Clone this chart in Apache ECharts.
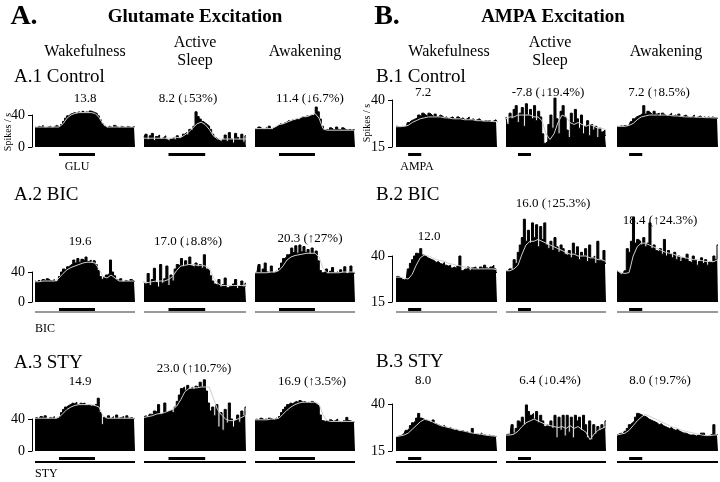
<!DOCTYPE html>
<html><head><meta charset="utf-8">
<script src="https://cdn.jsdelivr.net/npm/echarts@6/dist/echarts.min.js"></script>
<style>html,body{margin:0;padding:0;background:#fff}#c{width:720px;height:482px}</style>
</head><body><div id="c"></div>
<script>
// ---------- text ----------
const sectionTitles = ['Glutamate Excitation', 'AMPA Excitation'];
const sectionLetters = ['A.', 'B.'];
const stateNames = ['Wakefulness', 'Active Sleep', 'Awakening'];
const rowLabelsA = ['A.1 Control', 'A.2 BIC', 'A.3 STY'];
const rowLabelsB = ['B.1 Control', 'B.2 BIC', 'B.3 STY'];
const valueLabelsA = [['13.8', '8.2 (\u219353%)', '11.4 (\u21936.7%)'],
                      ['19.6', '17.0 (\u21938.8%)', '20.3 (\u219127%)'],
                      ['14.9', '23.0 (\u219110.7%)', '16.9 (\u21913.5%)']];
const valueLabelsB = [['7.2', '-7.8 (\u219319.4%)', '7.2 (\u21918.5%)'],
                      ['12.0', '16.0 (\u219125.3%)', '18.4 (\u219124.3%)'],
                      ['8.0', '6.4 (\u21930.4%)', '8.0 (\u21919.7%)']];
const yTicksA = [0, 40];
const yTicksB = [15, 40];
const yName = 'Spikes / s';

// ---------- firing-rate histograms (spikes/s), 50 bins each; trend = light smoothed line, 26 pts ----------
const a1Wake = [25,24,26,25,27,24,25,26,24,25,27,26,25, 28,32,36,39,41, 42,43,42,44,43,45,43,44,42,45,44,43,42, 39,34,29,26, 24,26,25,24,27,25,24,26,25,24,26,25,24,26,25];
const a1WakeTrend = [25,25,25,25,25,25,25,29,36,40,42,43,43,43,43,42,37,29,25,25,25,25,25,25,25,25];
const a1Sleep = [12,16,9,14,17,8,13,15,10,12,14,9,7,10,12,9,14,11,13,16, 18,15,22,20,26, 44,38,35, 32,30,28,26,22, 16,12,10,8,6,9, 15,7,18,10,5,17,12,9,16,6,14];
const a1SleepTrend = [11,11,11,11,11,11,11,11,12,12,15,19,24,29,31,28,22,14,10,10,10,10,10,10,10,10];
const a1Awake = [23,22,25,23,22,24,23,26,22,24, 25,27,29,28,30,31,33,32,34,33, 35,34,36,38,37,39,38,40,39,41, 50,44, 35,26, 21,22,21,24,22,21,25,22,21,24,22,21,22,21,22,21];
const a1AwakeTrend = [23,23,23,23,23,25,28,29,31,33,35,36,38,38,40,42,36,23,21,21,21,21,21,21,21,21];

const a2Wake = [28,27,29,27,30,28,31,29,28,30,27,29, 34,40,44,42,47,49, 51,56,52,58,53,57,55,60,54,56,52,55,50, 42,34,30, 33,36,38,56,40,35, 30,28,31,27,29,28,27,30,28,27];
const a2WakeTrend = [27,27,28,28,28,28,32,38,43,46,48,50,52,53,53,52,44,34,32,36,32,28,28,28,28,28];
const a2Sleep = [27,24,38,22,30,45,26,20,50,25,31,48,22,36,28, 44,50,48,58,47,55,49,60,48,46,52,47,50,45,63,44,42, 35,28,24, 22,30,20,23,32,19,21,20,24,30,18,22,28,20,25];
const a2SleepTrend = [26,26,27,28,28,28,30,34,42,48,49,50,50,49,49,48,45,33,25,22,22,22,22,22,22,22];
const a2Awake = [38,40,50,39,44,52,40,38,48,39,41,40, 45,52,58,60,63, 64,72,66,75,65,76,67,74,66,70,64,72,65,68, 55,42, 39,40,44,38,41,46,39,40,38,43,39,47,38,40,48,39,38];
const a2AwakeTrend = [39,39,39,39,40,40,42,48,56,60,62,63,64,65,65,65,60,45,39,39,39,39,40,40,40,40];

const a3Wake = [41,42,40,43,41,44,40,42,41,43,40,42, 44,48,52,55,57, 58,60,59,61,58,60,59,60,57,58,56,57,55,58, 66,48, 33,42,40,44,41,43,40,45,41,42,43,40,44,41,42,40,41];
const a3WakeTrend = [41,41,41,41,41,41,42,47,52,55,57,58,58,58,58,57,55,44,41,41,41,41,41,41,41,41];
const a3Sleep = [43,44,42,46,45,50,48,58,46,47,60,49,50,51,48,55, 62,70, 78,80,76,82,78,80,77,81,79,86,80,89, 75,60,50,55, 44,58,30,48,26,52,35,60,40,30,38,45,36,50,44,55];
const a3SleepTrend = [42,43,44,46,47,48,50,52,56,64,74,78,79,79,80,80,80,66,52,45,40,38,38,40,42,45];
const a3Awake = [39,40,38,41,39,40,38,41,40,39,41,40, 43,48,52,55,58, 60,59,61,62,60,63,61,62,60,61,59,62,60,58,56, 45,38, 37,38,36,39,37,38,40,37,36,38,37,42,38,37,36,37];
const a3AwakeTrend = [39,39,39,39,40,40,41,46,51,55,58,60,61,61,61,61,59,45,38,37,37,37,37,37,37,37];

const b1Wake = [26,26,25.5,26,25.8,26, 28,29,29.5,30, 30.5,32,31,33,32,31.5,33,32,31,32.5,31,32,31.5, 30.5,31,30,30.5,31,30,29.5,31,30,30.5,29.5,30,31,29.5,30,29,29.5,30,29,28.5,29,28.8,29,28.5,28.8,29.5,28.5];
const b1WakeTrend = [25.8,25.8,26,26.5,28,29,30,30.5,31,31,31,31,30.5,30.5,30,30,30,29.5,29.5,29.5,29,29,28.8,28.8,28.5,28.5];
const b1Sleep = [31,27,33,30,35,37,28,33,36,26,38,32,35,30,37,29,34,31, 22,17,18, 27,32,25,41,30,22,34,37,31, 24,20,33,28,35,30,25,32,22,26,29,21,27,24,26,20,25,23,24,21];
const b1SleepTrend = [30,31,31,32,32,32,32,31,31,29,22,19,22,28,32,31,28,27,28,27,26,27,26,25,25,24];
const b1Awake = [26,25.8,26.2,26,26.5,26,27, 28.5,30,31, 31.5,32,33,37,32.5,34,33,32,34,32.5,33,31.5,33, 32,31.5,32,33,31.5,32,31,32.5,31,31.5,32,31,30.5,31,32,30.5,31,31.5,30.5,31,30.5,31,30.5,31,30.5,30.5,30];
const b1AwakeTrend = [26,26,26,26.5,27.5,29.5,31,31.5,32,32,32,32,32,31.8,31.5,31.5,31.2,31,31,31,30.8,30.8,30.6,30.6,30.5,30.5];

const b2Wake = [28.7,29,28.5,27.5,27,27.5, 33,36,38, 40,41.5,41,44,40.5,40, 39,38.5,38,37.5,36.5,37,36,35.5,36.5,35, 34.5,35,33.5,34,33,34.5,40,32,33,32.5,34,32,33.5,34,33,32.5,34,33,35,33.5,32.5,34,35,33,31];
const b2WakeTrend = [28.5,28.5,28,27.5,30,35,39,40.5,40,39,38,37.5,37,36,35.5,35,34.5,34,33.5,33,33,33,33,33,33,32.5];
const b2Sleep = [32,31.5,33,32.5,38, 36,42,46,50,60, 48,54,47,58,50,57,45,56,49,58, 46,44,48,43,50,45,42,46,44,41, 40,43,39,47,41,45,38,42,40,44,37,46,39,40,36,48,38,37,43,36];
const b2SleepTrend = [32,32,33,35,41,46,48,48,49,48,47,46,45,44,43,42,41,41,40,40,40,39,39,38,38,37];
const b2Awake = [32,31,30,30.5,32, 44,42,48,61,47, 49,48,46,50,45,47,58,44,46,43, 42,44,41,49,40,43,41,39,42,38, 40,37,39,38,41,37,36,40,38,35,37,39,36,38,35,37,36,40,38,46];
const b2AwakeTrend = [32,31,30.5,31,40,45,47,47,46,45,44,43,42,41.5,41,40,39.5,39,38.5,38,38,37.5,37,37,37,38];

const b3Wake = [22.5,22.8,23,23.5, 24.5,26,27,28.5,30,31,32.5, 35,32.5,32, 31.5,31,30.5,30,31.5,29.5,29,28.5,28,28.5,27.5,27,27.5,26.5,26,26.5,25.5,25.5,26,25,25.5,24.5,24.5,27,24,24,23.5,24.5,23.5,23.5,23,23.5,22.8,23,22.6,22.8];
const b3WakeTrend = [22.6,23,23.5,24.5,26.5,28.5,30.5,31.8,31.5,30.5,29.5,28.5,28,27.5,27,26.5,26,25.5,25,24.5,24.2,24,23.5,23.2,23,22.8];
const b3Sleep = [23.5,24,23.5,29,24.5, 27,31,30,33,29,39.5, 36,34,35,32,36,30,34,31,28, 29,28,31,27,34,22,33,26,34,23, 34,25,33,22,34,31,33,26,34,29,22,31,21,29,24,28,26,29,27,31];
const b3SleepTrend = [23.5,23.5,24,25.5,28,30,31,32,31,30,29,28.5,28,27.5,28,27,28.5,27,28,26.5,25,21,24,26,27,28];
const b3Awake = [23.5,24,24.5,24,25.5, 27,29,30,31,33,35,34.5, 34,33.5,33,32,31.5,31,30.5,30,29,29.5,28.5,28,27.5,27,27.5,26.5,26,26.5,25.5,25,24.5,24.5,24, 23.5,23.5,23.5,23,23.5,23,24.5,24.5,23,23,23.5,24,29,23.5,24];
const b3AwakeTrend = [23.5,24,24.5,26,28.5,31,33,34.5,33.5,32.5,31.5,30.5,29.5,28.5,27.5,27,26,25.5,25,24.5,24,23.5,23.2,23.2,23.5,23.5];

// ---------- assembly ----------
const binCats = a1Wake.map((_, i) => String(i + 1));
const trendCats = a1WakeTrend.map((_, i) => String(i + 1));

const FONT = 'Liberation Serif';
const sections = [
  { key: 'A', min: 0, ticks: yTicksA, k: 3,
    cols: [[35,135],[144,246],[255,355]], axisX: 32,
    rows: [{ base: 147, top40: 115 }, { base: 302, top40: 272 }, { base: 451, top40: 419 }],
    data: [[a1Wake,a1WakeTrend,a1Sleep,a1SleepTrend,a1Awake,a1AwakeTrend],
           [a2Wake,a2WakeTrend,a2Sleep,a2SleepTrend,a2Awake,a2AwakeTrend],
           [a3Wake,a3WakeTrend,a3Sleep,a3SleepTrend,a3Awake,a3AwakeTrend]],
    app: [0.24, 0.60] },
  { key: 'B', min: 15, ticks: yTicksB, k: 2.5,
    cols: [[396,497],[506,606],[617,718]], axisX: 392,
    rows: [{ base: 147, top40: 100 }, { base: 302, top40: 256 }, { base: 451, top40: 404 }],
    data: [[b1Wake,b1WakeTrend,b1Sleep,b1SleepTrend,b1Awake,b1AwakeTrend],
           [b2Wake,b2WakeTrend,b2Sleep,b2SleepTrend,b2Awake,b2AwakeTrend],
           [b3Wake,b3WakeTrend,b3Sleep,b3SleepTrend,b3Awake,b3AwakeTrend]],
    app: [0.12, 0.25] }
];

const grid = [], xAxis = [], yAxis = [], series = [], elements = [];
function txt(x, y, text, size, opts) {
  elements.push(Object.assign({ type: 'text', x: x, y: y, silent: true,
    style: Object.assign({ text: text, fontFamily: FONT, fontSize: size, fill: '#000',
      align: 'center', verticalAlign: 'middle' }, (opts && opts.style) || {}) },
    (opts && opts.el) || {}));
}
function rect(x, y, w, h, color) {
  elements.push({ type: 'rect', silent: true, shape: { x: x, y: y, width: w, height: h }, style: { fill: color } });
}

sections.forEach(sec => {
  sec.rows.forEach((r, ri) => {
    const h40 = r.base - r.top40;
    const max = sec.min + (40 - sec.min) * sec.k;
    const gTop = r.base - h40 * sec.k;
    sec.cols.forEach((c, ci) => {
      const gi = grid.length;
      grid.push({ left: c[0], top: gTop, width: c[1] - c[0], height: r.base - gTop, containLabel: false });
      xAxis.push({ type: 'category', gridIndex: gi, data: binCats, show: false, boundaryGap: false });
      xAxis.push({ type: 'category', gridIndex: gi, data: trendCats, show: false, boundaryGap: false });
      yAxis.push({ type: 'value', gridIndex: gi, min: sec.min, max: max, show: false });
      const bars = sec.data[ri][ci * 2], trend = sec.data[ri][ci * 2 + 1];
      // histogram drawn as a stepped, filled silhouette (bins share edges, no seams)
      series.push({ type: 'line', step: 'middle', xAxisIndex: xAxis.length - 2, yAxisIndex: yAxis.length - 1,
        data: bars, symbol: 'none', lineStyle: { color: '#000', width: 1 },
        areaStyle: { color: '#000', opacity: 1, origin: 'start' },
        clip: true, silent: true, animation: false, z: 2 });
      series.push({ type: 'line', xAxisIndex: xAxis.length - 1, yAxisIndex: yAxis.length - 1,
        data: trend, symbol: 'none', lineStyle: { color: '#cfcfcf', width: 1 }, clip: true, silent: true, animation: false, z: 5 });
      // drug application bar
      const w = c[1] - c[0];
      rect(c[0] + w * sec.app[0], r.base + 6, w * (sec.app[1] - sec.app[0]), 3, '#000');
      if (ri === 1) rect(c[0], r.base + 9, w, 2, '#999');
      if (ri === 2) rect(c[0], r.base + 10, w, 2, '#000');
    });
  });
});

// bracket axes (0/15 to 40)
sections.forEach(sec => {
  sec.rows.forEach(r => {
    const gi = grid.length;
    grid.push({ left: sec.axisX, top: r.top40, width: 2, height: r.base - r.top40, containLabel: false });
    xAxis.push({ type: 'value', gridIndex: gi, min: 0, max: 1, show: false });
    yAxis.push({ type: 'value', gridIndex: gi, min: sec.ticks[0], max: sec.ticks[1],
      interval: sec.ticks[1] - sec.ticks[0],
      axisLine: { show: true, lineStyle: { color: '#000', width: 1 } },
      axisTick: { show: true, length: 4, lineStyle: { color: '#000' } },
      splitLine: { show: false },
      axisLabel: { show: true, color: '#000', fontFamily: FONT, fontSize: 14, margin: 7 } });
  });
});

// headings
txt(24, 17, sectionLetters[0], 28, { style: { fontWeight: 'bold' } });
txt(195, 17, sectionTitles[0], 19, { style: { fontWeight: 'bold' } });
txt(387, 17, sectionLetters[1], 28, { style: { fontWeight: 'bold' } });
txt(553, 17, sectionTitles[1], 19, { style: { fontWeight: 'bold' } });
const headCenters = [[85, 195, 305], [449, 550, 666]];
headCenters.forEach(hc => {
  txt(hc[0], 52, stateNames[0], 16);
  txt(hc[1], 43, stateNames[1].split(' ')[0], 16);
  txt(hc[1], 61, stateNames[1].split(' ')[1], 16);
  txt(hc[2], 52, stateNames[2], 16);
});
// row labels
[[rowLabelsA, 14, [77, 195, 363]], [rowLabelsB, 376, [77, 195, 362]]].forEach(([labels, x, ys]) => {
  labels.forEach((l, i) => txt(x, ys[i], l, 19, { style: { align: 'left' } }));
});
// value labels
const valPosA = [[[85,99],[188,99],[310,99]], [[80,242],[188,242],[310,239]], [[80,382],[194,369],[312,382]]];
const valPosB = [[[423,93],[548,93],[659,93]], [[429,237],[553,204],[660,221]], [[423,381],[550,381],[660,381]]];
valueLabelsA.forEach((row, ri) => row.forEach((t, ci) => txt(valPosA[ri][ci][0], valPosA[ri][ci][1], t, 13)));
valueLabelsB.forEach((row, ri) => row.forEach((t, ci) => txt(valPosB[ri][ci][0], valPosB[ri][ci][1], t, 13)));
// drug names
txt(77, 167, 'GLU', 12);
txt(417, 167, 'AMPA', 12);
txt(35, 329, 'BIC', 12, { style: { align: 'left' } });
txt(35, 474, 'STY', 12, { style: { align: 'left' } });
// y names
txt(8, 132, yName, 10, { el: { rotation: Math.PI / 2 } });
txt(367, 123, yName, 10, { el: { rotation: Math.PI / 2 } });

const chart = echarts.init(document.getElementById('c'), null, { renderer: 'canvas' });
chart.setOption({
  animation: false,
  backgroundColor: '#fff',
  grid: grid, xAxis: xAxis, yAxis: yAxis, series: series,
  graphic: { elements: elements }
});
</script></body></html>
